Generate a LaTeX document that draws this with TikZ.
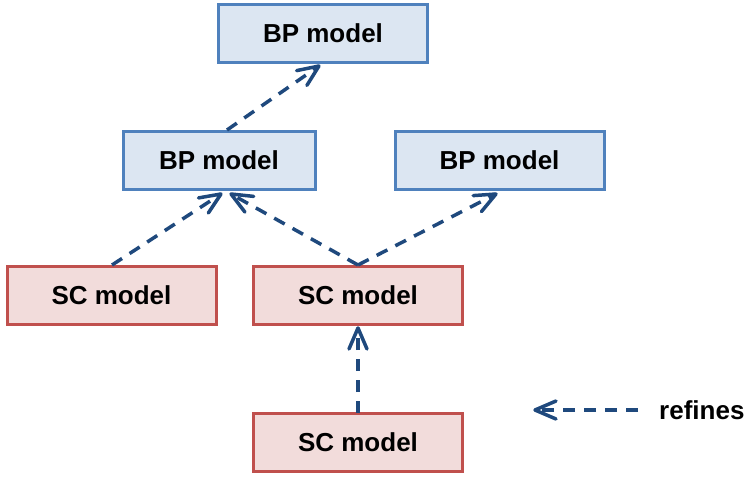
\documentclass[tikz,border=0pt]{standalone}
\usepackage{fontspec}
\setmainfont{Liberation Sans}
\usetikzlibrary{decorations.markings}
\definecolor{bpfill}{HTML}{DCE6F2}
\definecolor{bpline}{HTML}{4F81BD}
\definecolor{scfill}{HTML}{F2DCDB}
\definecolor{scline}{HTML}{C0504D}
\definecolor{refline}{HTML}{1F497D}
\begin{document}
\begin{tikzpicture}[x=1pt,y=-1pt,
  model/.style={draw, line width=3pt, minimum width=209pt, minimum height=58pt,
    inner sep=0pt, font=\fontsize{26}{30}\selectfont\bfseries},
  bp/.style={model, fill=bpfill, draw=bpline},
  sc/.style={model, fill=scfill, draw=scline},
  % dashed line with an open chevron head drawn solid at its end
  refines/.style={draw=refline, line width=3.5pt, dash pattern=on 12pt off 9pt,
    postaction={decorate},
    decoration={markings, mark=at position 1 with {
      \draw[solid, draw=refline, line width=3.5pt, line cap=round, line join=round]
        (-21pt,9pt) -- (0pt,0pt) -- (-21pt,-9pt);}}}]
\useasboundingbox (0,0) rectangle (745,479);
% business process models
\node[bp] (bptop) at (323,33) {BP model};
\node[bp, minimum width=192pt] (bpleft) at (219,160) {BP model};
\node[bp] (bpright) at (499.5,160) {BP model};
% service composition models
\node[sc] (scleft) at (111.5,295) {SC model};
\node[sc] (scmid) at (358,295) {SC model};
\node[sc] (scbot) at (358,442) {SC model};
% refinement relations
\coordinate (a1) at (227,130); \coordinate (b1) at (319,66);
\coordinate (a2) at (112,265); \coordinate (b2) at (221,194);
\coordinate (a3) at (358,265); \coordinate (b3) at (231,194);
\coordinate (b4) at (496,194);
\coordinate (a5) at (358,413); \coordinate (b5) at (358,328);
\draw[refines] (a1) -- (b1);
\draw[refines] (a2) -- (b2);
\draw[refines] (a3) -- (b3);
\draw[refines] (a3) -- (b4);
\draw[refines] (a5) -- (b5);
% legend
\coordinate (lgstart) at (638,410);
\coordinate (lgend) at (535,410);
\draw[refines] (lgstart) -- (lgend);
\node[anchor=west, inner sep=0pt, font=\fontsize{26}{30}\selectfont\bfseries] (lgtext) at (659,410) {refines};
\end{tikzpicture}
\end{document}
